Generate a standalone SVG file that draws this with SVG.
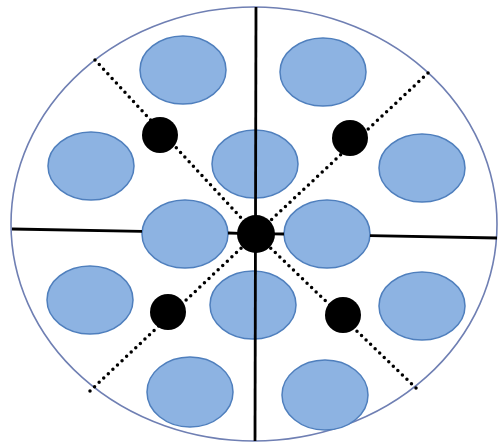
<svg xmlns="http://www.w3.org/2000/svg" width="498" height="445" viewBox="0 0 498 445">
<style>
.outer{fill:#fff;stroke:#6f7fb3;stroke-width:1.6}
.cell{fill:#8db3e2;stroke:#4f7fbd;stroke-width:1.5}
.hub{fill:#000}
.solid{stroke:#000;stroke-width:2.8;fill:none}
.dot{stroke:#000;stroke-width:3.5;fill:none;stroke-dasharray:0 6.3;stroke-linecap:round}
</style>
<rect width="498" height="445" fill="#fff"/>
<g id="boundary"><ellipse class="outer" cx="254" cy="224" rx="243" ry="217"/></g>
<g id="cells">
<g id="c1"><ellipse class="cell" cx="183" cy="70" rx="43" ry="34"/></g>
<g id="c2"><ellipse class="cell" cx="323" cy="72" rx="43" ry="34"/></g>
<g id="c3"><ellipse class="cell" cx="91" cy="166" rx="43" ry="34"/></g>
<g id="c4"><ellipse class="cell" cx="255" cy="164" rx="43" ry="34"/></g>
<g id="c5"><ellipse class="cell" cx="422" cy="168" rx="43" ry="34"/></g>
<g id="c6"><ellipse class="cell" cx="185" cy="234" rx="43" ry="34"/></g>
<g id="c7"><ellipse class="cell" cx="327" cy="234" rx="43" ry="34"/></g>
<g id="c8"><ellipse class="cell" cx="90" cy="300" rx="43" ry="34"/></g>
<g id="c9"><ellipse class="cell" cx="253" cy="305" rx="43" ry="34"/></g>
<g id="c10"><ellipse class="cell" cx="422" cy="306" rx="43" ry="34"/></g>
<g id="c11"><ellipse class="cell" cx="190" cy="392" rx="43" ry="35"/></g>
<g id="c12"><ellipse class="cell" cx="325" cy="395" rx="43" ry="35"/></g>
</g>
<g id="connectors">
<path class="solid" d="M12 229 L142 231.4 M228 233 L240 233.3 M272 233.8 L284 234 M370 235.6 L497 238"/>
<path class="solid" d="M256 7 L255 441"/>
<path class="dot" d="M95 60 L256 234"/>
<path class="dot" d="M428 73 L256 234"/>
<path class="dot" d="M90 391 L256 234"/>
<path class="dot" d="M416 388 L256 234"/>
</g>
<g id="hubs">
<g id="h0"><circle class="hub" cx="256" cy="234" r="19"/></g>
<g id="h1"><circle class="hub" cx="160" cy="135" r="18"/></g>
<g id="h2"><circle class="hub" cx="350" cy="138" r="18"/></g>
<g id="h3"><circle class="hub" cx="168" cy="312" r="18"/></g>
<g id="h4"><circle class="hub" cx="343" cy="315" r="18"/></g>
</g>
</svg>
